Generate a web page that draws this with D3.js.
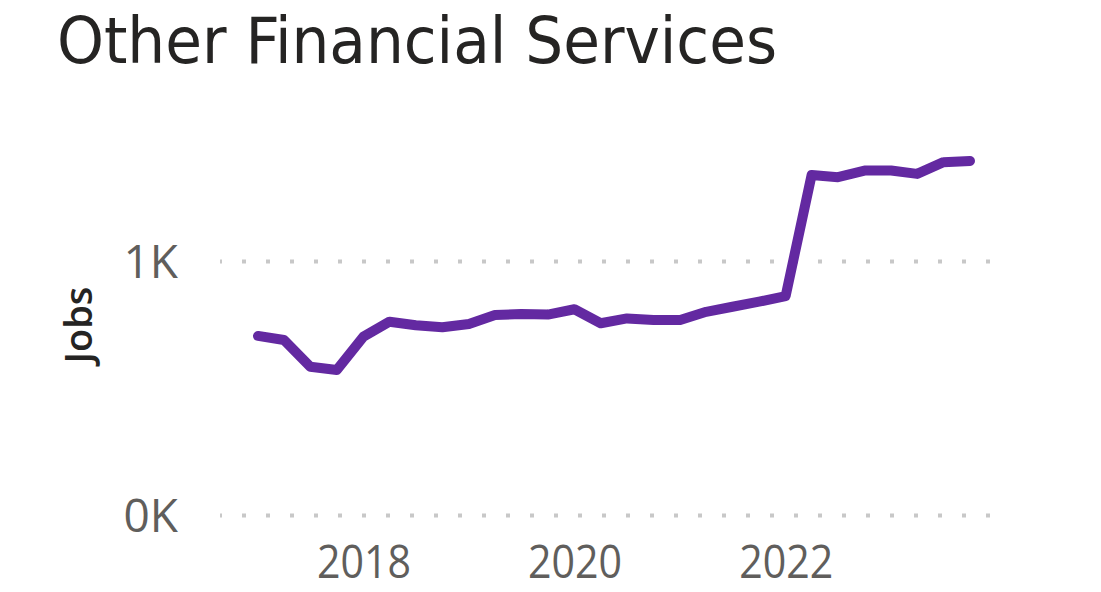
<!DOCTYPE html>
<html>
<head>
<meta charset="utf-8">
<script src="https://cdn.jsdelivr.net/npm/d3@7"></script>
<style>
  body { margin: 0; background: #fff; }
</style>
</head>
<body>
<script>
// quarterly periods (first day of quarter)
var quarters = ["2017-01-01", "2017-04-01", "2017-07-01", "2017-10-01",
    "2018-01-01", "2018-04-01", "2018-07-01", "2018-10-01",
    "2019-01-01", "2019-04-01", "2019-07-01", "2019-10-01",
    "2020-01-01", "2020-04-01", "2020-07-01", "2020-10-01",
    "2021-01-01", "2021-04-01", "2021-07-01", "2021-10-01",
    "2022-01-01", "2022-04-01", "2022-07-01", "2022-10-01",
    "2023-01-01", "2023-04-01", "2023-07-01", "2023-10-01"];
var jobs = [705, 689, 584, 571, 702, 761, 747, 739, 752, 787, 791, 789, 810, 755,
    774, 768, 768, 800, 820, 840, 862, 1339, 1330, 1356, 1356, 1343, 1389, 1394];
var yTicks = [0, 1000];
var xTicks = ["2018-01-01", "2020-01-01", "2022-01-01"];

var title = "Other Financial Services";
var yTitle = "Jobs";

//Width and height
var w = 1101;
var h = 592;

var parse = d3.timeParse("%Y-%m-%d");
var data = quarters.map((q, i) => ({ date: parse(q), value: jobs[i] }));

var svg = d3.select("body")
    .append("svg")
    .attr("width", w)
    .attr("height", h);

var x = d3.scaleTime()
    .domain(d3.extent(data, d => d.date))
    .range([258, 970]);

var y = d3.scaleLinear()
    .domain([0, 1000])
    .range([515, 261]);

//Title
svg.append("text")
    .attr("x", 57)
    .attr("y", 63)
    .attr("font-family", "'DejaVu Sans Condensed', 'Liberation Sans Narrow', Roboto, sans-serif")
    .attr("font-size", 64)
    .attr("fill", "#252423")
    .attr("textLength", 720)
    .attr("lengthAdjust", "spacingAndGlyphs")
    .text(title);

//Y axis with dotted gridlines
var yAxis = svg.append("g")
    .attr("transform", "translate(990,0)")
    .call(d3.axisLeft(y)
        .tickValues(yTicks)
        .tickSize(770)
        .tickPadding(42)
        .tickFormat(d => (d / 1000) + "K"));

yAxis.select(".domain").remove();
yAxis.selectAll("line")
    .attr("stroke", "#C8C8C8")
    .attr("stroke-width", 4)
    .attr("stroke-dasharray", "4 20");
yAxis.selectAll("text")
    .attr("font-family", "'Open Sans', 'Noto Sans', sans-serif")
    .attr("font-size", 46)
    .attr("fill", "#605E5C")
    .attr("dy", "0.36em");

//X axis
var xAxis = svg.append("g")
    .attr("transform", "translate(0,515)")
    .call(d3.axisBottom(x)
        .tickValues(xTicks.map(parse))
        .tickSize(0)
        .tickPadding(30)
        .tickFormat(d3.timeFormat("%Y")));

xAxis.select(".domain").remove();
xAxis.selectAll("text")
    .attr("font-family", "'Open Sans', 'Noto Sans', sans-serif")
    .attr("font-size", 46)
    .attr("fill", "#605E5C")
    .attr("textLength", 94)
    .attr("lengthAdjust", "spacingAndGlyphs");

//Y axis title
svg.append("text")
    .attr("transform", "translate(92,325) rotate(-90)")
    .attr("text-anchor", "middle")
    .attr("font-family", "'Open Sans', 'Noto Sans', sans-serif")
    .attr("font-weight", 600)
    .attr("font-size", 38)
    .attr("fill", "#252423")
    .text(yTitle);

//Line
var line = d3.line()
    .x(d => x(d.date))
    .y(d => y(d.value));

svg.append("path")
    .datum(data)
    .attr("fill", "none")
    .attr("stroke", "#6329A1")
    .attr("stroke-width", 10)
    .attr("stroke-linejoin", "round")
    .attr("stroke-linecap", "round")
    .attr("d", line);
</script>
</body>
</html>
